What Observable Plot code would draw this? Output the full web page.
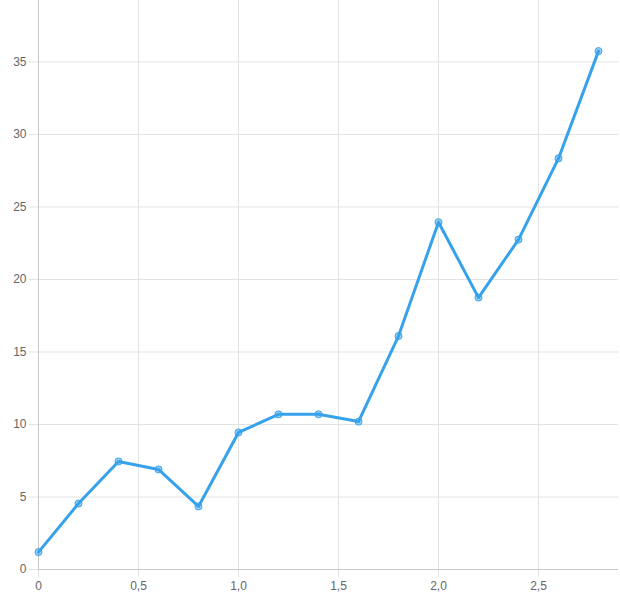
<!DOCTYPE html>
<html>
<head>
<meta charset="utf-8">
<script src="https://cdn.jsdelivr.net/npm/d3@7"></script>
<script src="https://cdn.jsdelivr.net/npm/@observablehq/plot@0.6"></script>
<style>
  body { margin: 0; background: #fff; }
  #chart svg { display: block; }
</style>
</head>
<body>
<div id="chart"></div>
<script>
const xs = [0, 0.2, 0.4, 0.6, 0.8, 1.0, 1.2, 1.4, 1.6, 1.8, 2.0, 2.2, 2.4, 2.6, 2.8];
const ys = [1.2, 4.55, 7.45, 6.9, 4.35, 9.45, 10.7, 10.7, 10.2, 16.1, 23.95, 18.75, 22.75, 28.35, 35.75];
const xTicks = [0, 0.5, 1.0, 1.5, 2.0, 2.5];
const yTicks = [0, 5, 10, 15, 20, 25, 30, 35];

const data = xs.map((x, i) => ({x, y: ys[i]}));
const fmtX = d => d === 0 ? "0" : d.toFixed(1).replace(".", ",");
const blue = "#36a2eb";

const chart = Plot.plot({
  width: 620,
  height: 603,
  marginLeft: 38,
  marginRight: 2,
  marginTop: 0,
  marginBottom: 34,
  style: {fontFamily: "'Liberation Sans', Arial, sans-serif", fontSize: "12px", color: "#666"},
  x: {domain: [0, 2.9]},
  y: {domain: [0, 39.24]},
  marks: [
    Plot.ruleX(xTicks, {stroke: "#e3e3e3", strokeOpacity: 1}),
    Plot.ruleY(yTicks, {stroke: "#e3e3e3", strokeOpacity: 1}),
    Plot.axisX(xTicks, {tickFormat: fmtX, tickSize: 8, tickPadding: 4, stroke: "#e3e3e3", fill: "#666", label: null, fontSize: 12}),
    Plot.axisY(yTicks, {tickSize: 9, tickPadding: 3, stroke: "#e3e3e3", fill: "#666", label: null, fontSize: 12}),
    Plot.ruleY([0], {stroke: "#c8c8c8"}),
    Plot.ruleX([0], {stroke: "#c8c8c8"}),
    Plot.line(data, {x: "x", y: "y", stroke: blue, strokeWidth: 3, strokeLinejoin: "round", strokeLinecap: "round"}),
    Plot.dot(data, {x: "x", y: "y", r: 3.5, fill: blue, fillOpacity: 0.5, stroke: blue, strokeWidth: 1})
  ]
});
document.getElementById("chart").appendChild(chart);
</script>
</body>
</html>
